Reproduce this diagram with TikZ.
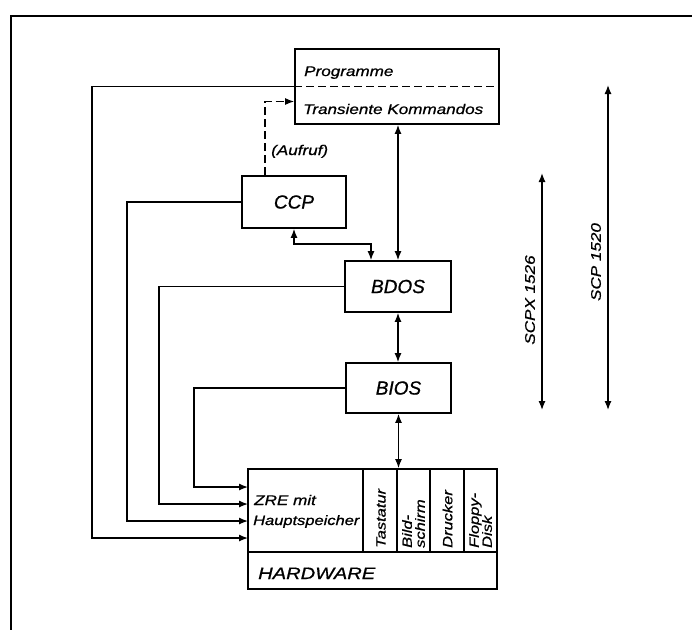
\documentclass[tikz,border=0pt]{standalone}
\usepackage{fontspec}
\setmainfont{Liberation Sans}[FakeBold=0.8]
\newfontfamily\wf{Liberation Sans}[FakeStretch=1.22,FakeBold=0.8]
\usetikzlibrary{arrows.meta,calc}
\begin{document}
\begin{tikzpicture}[x=1pt,y=-1pt,
  box/.style={draw,line width=1.8pt,rectangle,inner sep=0pt},
  blabel/.style={font=\itshape\fontsize{19}{22}\selectfont},
  txt/.style={font=\wf\itshape\fontsize{14}{16}\selectfont,inner sep=0pt},
  vtxt/.style={font=\wf\itshape\fontsize{13.5}{13}\selectfont,rotate=90,anchor=west,align=left,inner sep=1pt},
  conn/.style={line width=1.3pt},
  tip/.tip={Latex[length=9pt,width=7pt]},
  arr/.style={conn,-tip},
  both/.style={conn,tip-tip}]
\useasboundingbox (0,0) rectangle (692,630);
% frame
\draw[line width=1.6pt] (692,16) -- (11,16) -- (11,630);
% boxes
\node[box,minimum width=204pt,minimum height=75pt] (prog) at (397,86.5) {};
\node[box,blabel,minimum width=104pt,minimum height=52pt] (ccp) at (294,202) {CCP};
\node[box,blabel,minimum width=106pt,minimum height=51pt] (bdos) at (398,286.5) {BDOS};
\node[box,blabel,minimum width=105pt,minimum height=50pt] (bios) at (398.5,388) {BIOS};
\node[box,minimum width=115pt,minimum height=83pt] (zre) at (305.5,510.5) {};
\node[box,minimum width=34pt,minimum height=83pt] (tast) at (380,510.5) {};
\node[box,minimum width=33pt,minimum height=83pt] (bild) at (413.5,510.5) {};
\node[box,minimum width=34pt,minimum height=83pt] (druck) at (447,510.5) {};
\node[box,minimum width=33pt,minimum height=83pt] (flop) at (480.5,510.5) {};
\node[box,minimum width=249pt,minimum height=37pt] (hwbar) at (372.5,570.5) {};
\draw[conn,dash pattern=on 8pt off 4pt] (prog.west) -- (prog.east);
% texts
\node[txt,anchor=base west] (t1) at (304,76) {Programme};
\node[txt,anchor=base west] (t2) at (303,114) {Transiente Kommandos};
\node[txt,anchor=base west] (t3) at (271,155) {(Aufruf)};
\node[txt,anchor=base west] (t4) at (254,505) {ZRE mit};
\node[txt,anchor=base west,font=\wf\itshape\fontsize{13.5}{15}\selectfont] (t5) at (253,525) {Hauptspeicher};
\node[txt,anchor=base west,font=\wf\itshape\fontsize{16.5}{18}\selectfont] (t6) at (258,579) {HARDWARE};
\node[vtxt] (t7) at (381,549) {Tastatur};
\node[vtxt] (t8) at (413.5,549) {Bild-\\schirm};
\node[vtxt] (t9) at (447.5,549) {Drucker};
\node[vtxt] (t10) at (480.5,549) {Floppy-\\Disk};
% arrow targets at ZRE
\coordinate (z1) at (248,487);
\coordinate (z2) at (248,504);
\coordinate (z3) at (248,521);
\coordinate (z4) at (248,538);
% feedback lines
\draw[arr] (prog.west) -- ++(-202,0) |- (z4);
\draw[arr] (ccp.west) -- ++(-114,0) |- (z3);
\draw[arr] (bdos.west) -- ++(-185,0) |- (z2);
\draw[arr] (bios.west) -- ++(-151,0) |- (z1);
% call
\draw[conn,dash pattern=on 8pt off 4pt,-tip] ($(ccp.north west)+(24,0)$) |- ($(prog.west)+(0,15)$);
% vertical links
\draw[both] (bdos.north) -- (bdos.north |- prog.south);
\draw[both] (ccp.south) -- ++(0,15) -| ($(bdos.north)+(-27,0)$);
\draw[both] (bdos.south) -- (bdos.south |- bios.north);
\draw[both] (bios.south) -- (bios.south |- bild.north);
% ranges
\coordinate (s1a) at (542,173);
\coordinate (s1b) at (542,410);
\coordinate (s2a) at (608,85);
\coordinate (s2b) at (608,410);
\draw[both] (s1a) -- (s1b);
\draw[both] (s2a) -- (s2b);
\node[txt,rotate=90] (l1) at (530,300) {SCPX 1526};
\node[txt,rotate=90] (l2) at (596,262) {SCP 1520};
\end{tikzpicture}
\end{document}
